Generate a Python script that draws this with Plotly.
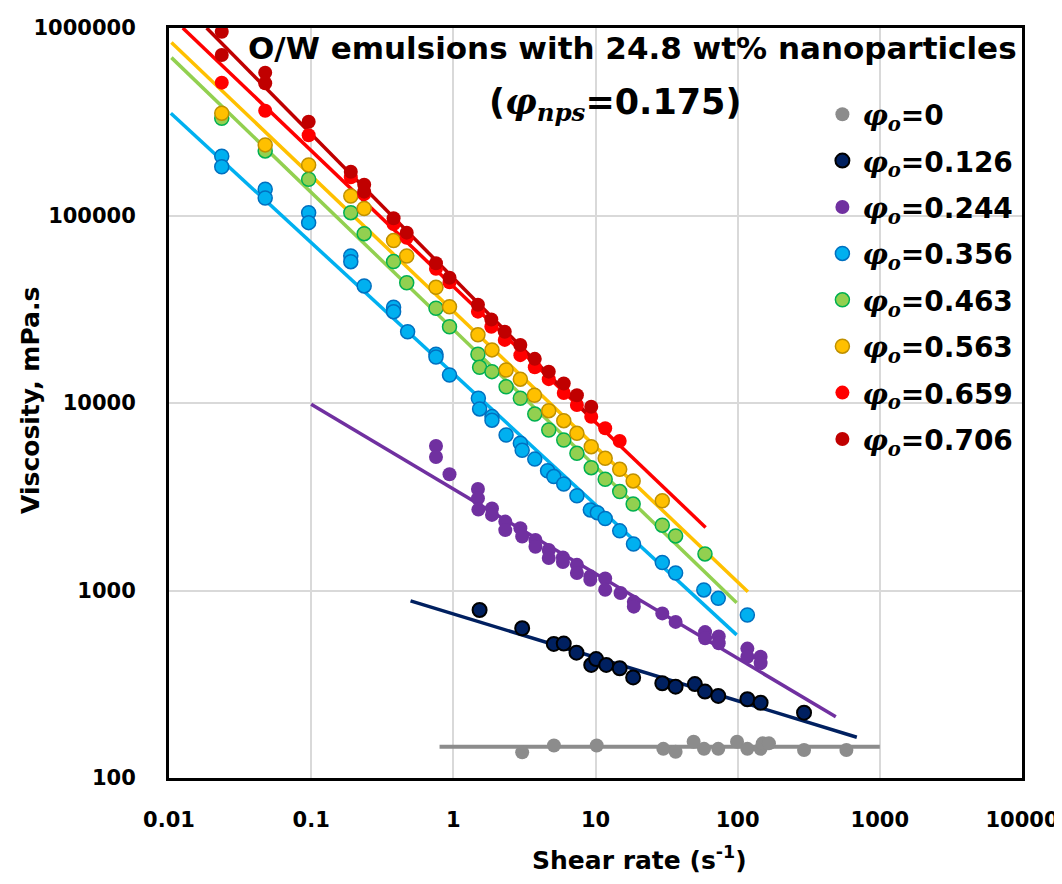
import plotly.graph_objects as go

# shear rate (1/s) and viscosity (mPa.s), one pair of lists per emulsion
phi_labels = ['0', '0.126', '0.244', '0.356', '0.463', '0.563', '0.659', '0.706']

rate_0 = [3.05, 5.1, 10.2, 30, 36.6, 49, 58, 73, 99, 117, 145, 150, 166, 293, 582]
visc_0 = [137, 149, 149, 143, 138, 156, 143, 143, 156, 143, 143, 153, 153, 141, 141]

rate_126 = [1.53, 3.05, 5.09, 5.98, 7.35, 9.33, 10.1, 11.9, 14.8, 18.4, 29.5, 36.6, 50, 58.9, 73, 117, 145, 293]
visc_126 = [787, 629, 519, 521, 466, 401, 431, 401, 385, 344, 320, 307, 317, 289, 274, 263, 252, 223]

rate_244 = [0.755, 0.755, 0.94, 1.49, 1.49, 1.5, 1.87, 1.87, 2.32, 2.32, 2.96, 3.05, 3.78, 3.78, 4.69, 4.69,
            5.9, 5.9, 7.4, 7.4, 9.2, 9.2, 11.7, 11.7, 15, 18.6, 18.6, 29.5, 36.6, 59, 59, 73.6, 73.6,
            117, 117, 145, 145]
visc_244 = [5900, 5150, 4170, 3480, 3100, 2700, 2740, 2530, 2330, 2100, 2150, 1940, 1860, 1710, 1645, 1490,
            1500, 1420, 1370, 1240, 1190, 1140, 1160, 1010, 970, 870, 820, 755, 680, 600, 556, 568, 523,
            490, 443, 443, 410]

rate_356 = [0.0235, 0.0235, 0.0475, 0.0475, 0.096, 0.096, 0.19, 0.19, 0.236, 0.38, 0.38, 0.477, 0.755, 0.755,
            0.94, 1.5, 1.53, 1.87, 1.87, 2.35, 2.96, 3.05, 3.74, 4.6, 5.09, 5.98, 7.4, 9.2, 10.3, 11.7, 14.8,
            18.5, 29.5, 36.6, 57.8, 73, 117]
visc_356 = [207000, 182000, 138000, 124000, 103500, 91600, 60800, 56700, 42100, 32400, 30700, 24000, 18200, 17600,
            14100, 10600, 9300, 8460, 8100, 6750, 6100, 5600, 5020, 4350, 4050, 3700, 3200, 2690, 2600, 2420, 2080,
            1770, 1410, 1240, 1007, 908, 740]

rate_463 = [0.0235, 0.0475, 0.096, 0.19, 0.236, 0.38, 0.47, 0.755, 0.94, 1.49, 1.53, 1.87, 2.35, 2.96, 3.74,
            4.69, 5.98, 7.4, 9.33, 11.7, 14.8, 18.4, 29.5, 36.6, 58.9]
visc_463 = [330000, 221000, 156000, 103500, 80000, 56800, 43800, 32000, 25500, 18200, 15500, 14700, 12200, 10600, 8730,
            7180, 6350, 5390, 4520, 3920, 3370, 2890, 2230, 1955, 1567]

rate_563 = [0.0235, 0.0475, 0.096, 0.19, 0.236, 0.38, 0.47, 0.755, 0.94, 1.49, 1.87, 2.35, 2.96, 3.72,
            4.69, 5.98, 7.4, 9.33, 11.7, 14.8, 18.4, 29.5]
visc_563 = [351000, 238000, 186000, 127000, 109000, 73500, 60800, 41400, 32600, 23100, 19200, 15000, 13400, 11000,
            9100, 8050, 6890, 5850, 5070, 4430, 3840, 3010]

rate_659 = [0.0235, 0.0475, 0.096, 0.19, 0.236, 0.38, 0.47, 0.755, 0.94, 1.49, 1.85, 2.3, 2.96, 3.74,
            4.69, 5.98, 7.4, 9.33, 11.7, 14.8]
visc_659 = [511000, 362000, 268000, 160000, 130000, 90000, 76000, 52000, 44000, 30700, 25500, 21700, 18000, 15500,
            13400, 11300, 9750, 8450, 7330, 6270]

rate_706 = [0.0235, 0.0235, 0.0475, 0.0475, 0.096, 0.19, 0.236, 0.236, 0.38, 0.47, 0.755, 0.94, 1.49, 1.85,
            2.3, 2.96, 3.74, 4.69, 5.98, 7.4, 9.33]
visc_706 = [955000, 718000, 578000, 507000, 316000, 171000, 146000, 134000, 96600, 81000, 55600, 46600, 33400, 27900,
            24000, 20400, 17200, 14700, 12700, 11000, 9550]

# power-law trend lines (start, end)
fit_x = [[0.8, 1000], [0.5, 689], [0.1, 490], [0.0103, 98.4], [0.0104, 98.4], [0.0104, 118], [0.0125, 59.5], [0.0184, 10]]
fit_y = [[147, 147], [880, 165], [9840, 212], [351000, 580], [695000, 861], [836000, 985], [1000000, 2170], [1000000, 7900]]

rates = [rate_0, rate_126, rate_244, rate_356, rate_463, rate_563, rate_659, rate_706]
viscs = [visc_0, visc_126, visc_244, visc_356, visc_463, visc_563, visc_659, visc_706]

fill_colors = ['#8c8c8c', '#002060', '#7030a0', '#00b0f0', '#92d050', '#ffc000', '#ff0000', '#c00000']
edge_colors = ['#8c8c8c', '#000000', '#7030a0', '#0070c0', '#00b050', '#bf9000', '#ff0000', '#c00000']
line_colors = ['#8c8c8c', '#002060', '#7030a0', '#00b0f0', '#92d050', '#ffc000', '#ff0000', '#c00000']
edge_w = [0, 2, 0, 1.5, 1.5, 1.5, 0, 0]
line_w = [4, 3.5, 3.5, 3.5, 3.5, 3.5, 3.5, 3.5]

fig = go.Figure()

#lines first so the dots sit on top
for i in range(len(phi_labels)):
    fig.add_trace(go.Scatter(x=fit_x[i], y=fit_y[i], mode='lines',
                             line=dict(color=line_colors[i], width=line_w[i]),
                             showlegend=False, hoverinfo='skip'))

phi = "<span style=\"font-family:'DejaVu Serif'\"><i>φ</i><sub><i>o</i></sub></span>"
for i in range(len(phi_labels)):
    fig.add_trace(go.Scatter(x=rates[i], y=viscs[i], mode='markers',
                             marker=dict(size=14, color=fill_colors[i],
                                         line=dict(color=edge_colors[i], width=edge_w[i])),
                             legendgroup='g' + str(i),
                             name='<b>' + phi + '=' + phi_labels[i] + '</b>'))

axis_font = dict(family='DejaVu Sans', size=21, color='black')

fig.update_xaxes(type='log', range=[-2, 4], automargin=False,
                 tickvals=[0.01, 0.1, 1, 10, 100, 1000, 10000],
                 ticktext=['<b>0.01</b>', '<b>0.1</b>', '<b>1</b>', '<b>10</b>', '<b>100</b>', '<b>1000</b>', '<b>10000</b>'],
                 tickfont=axis_font, ticks='', ticklabelstandoff=21,
                 showgrid=True, gridcolor='#d9d9d9', gridwidth=2,
                 showline=True, linecolor='black', linewidth=3, mirror=True, zeroline=False)
fig.update_yaxes(type='log', range=[2, 6], automargin=False,
                 tickvals=[100, 1000, 10000, 100000, 1000000],
                 ticktext=['<b>100</b>', '<b>1000</b>', '<b>10000</b>', '<b>100000</b>', '<b>1000000</b>'],
                 tickfont=axis_font, ticks='', ticklabelstandoff=26,
                 showgrid=True, gridcolor='#d9d9d9', gridwidth=2,
                 showline=True, linecolor='black', linewidth=3, mirror=True, zeroline=False)

# axis titles
fig.add_annotation(text='<b>Shear rate (s<sup>-1</sup>)</b>', xref='paper', yref='paper',
                   x=0.552, y=-0.107, xanchor='center', yanchor='middle', showarrow=False,
                   font=dict(family='DejaVu Sans', size=25, color='black'))
fig.add_annotation(text='<b>Viscosity, mPa.s</b>', xref='paper', yref='paper', textangle=-90,
                   x=-0.163, y=0.504, xanchor='center', yanchor='middle', showarrow=False,
                   font=dict(family='DejaVu Sans', size=25, color='black'))

# chart title inside the plot
fig.add_annotation(text='<b>O/W emulsions with 24.8 wt% nanoparticles</b>', xref='paper', yref='paper',
                   x=0.543, y=0.973, xanchor='center', yanchor='middle', showarrow=False,
                   font=dict(family='DejaVu Sans', size=31, color='black'))
fig.add_annotation(text="<b>(<span style=\"font-family:'DejaVu Serif'\"><i>φ</i><sub><i>nps</i></sub></span>=0.175)</b>",
                   xref='paper', yref='paper', x=0.523, y=0.898, xanchor='center', yanchor='middle', showarrow=False,
                   font=dict(family='DejaVu Sans', size=35, color='black'))

# page body adds an 8px offset, so the figure is a bit smaller than the window
fig.update_layout(width=1054, height=868, plot_bgcolor='white', paper_bgcolor='white',
                  margin=dict(l=161, r=40, t=20, b=98, autoexpand=False),
                  legend=dict(x=0.766, y=0.918, xanchor='left', yanchor='top', bgcolor='rgba(0,0,0,0)',
                              font=dict(family='DejaVu Sans', size=28, color='black'), itemwidth=30,
                              tracegroupgap=7),
                  font=dict(family='DejaVu Sans', color='black'))

fig.write_html("out.html")
